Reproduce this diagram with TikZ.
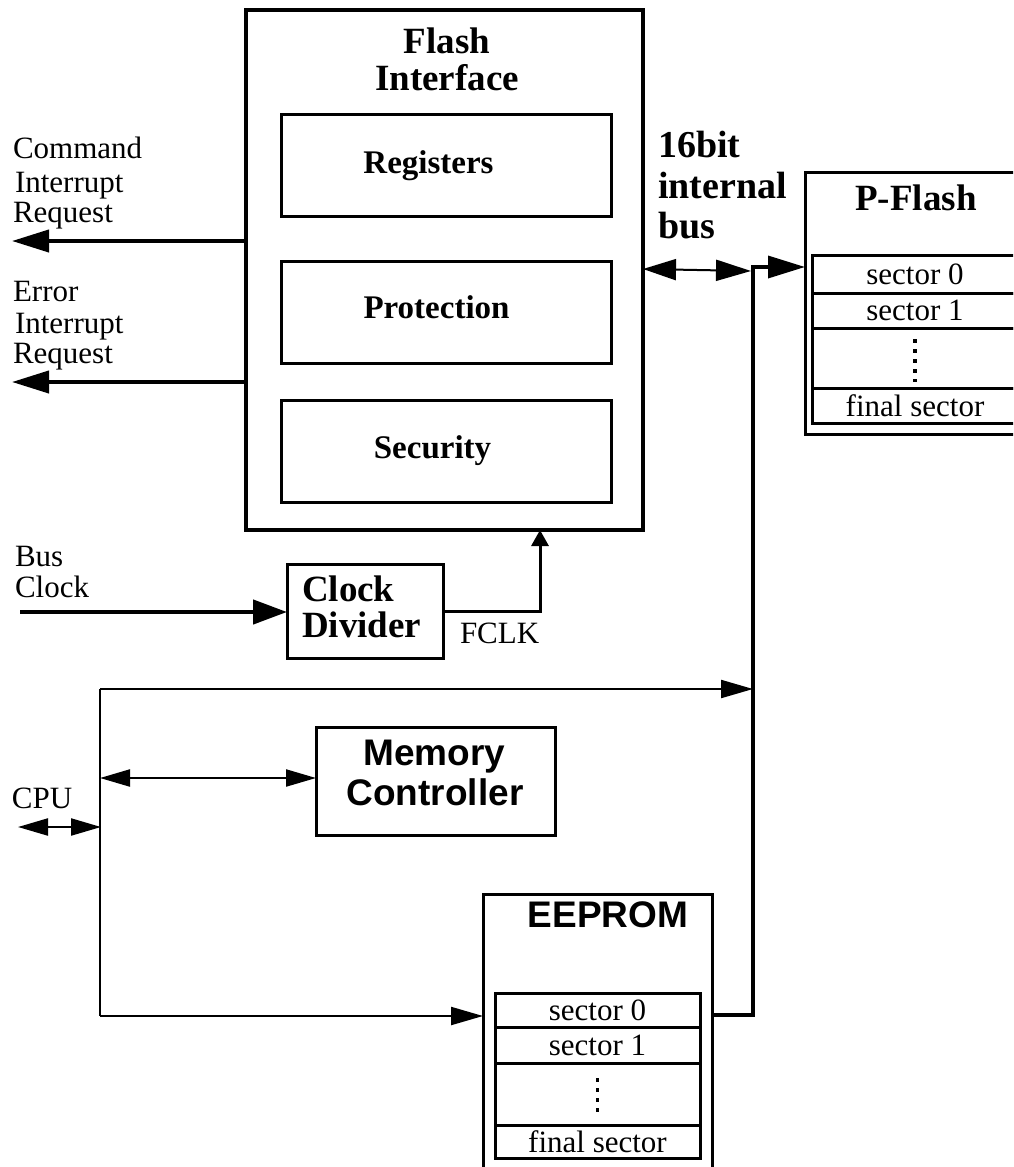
\documentclass[tikz,border=0pt]{standalone}
\usepackage{fontspec}
\setmainfont{Liberation Serif}
\setsansfont{Liberation Sans}
\usetikzlibrary{arrows.meta,calc}
\newcommand\txtN{\fontsize{31}{31}\selectfont}
\newcommand\txtB{\fontsize{37}{37}\selectfont\bfseries}
\newcommand\txtBb{\fontsize{38}{38}\selectfont\bfseries}
\newcommand\txtBs{\fontsize{33}{33}\selectfont\bfseries}
\newcommand\txtSB{\fontsize{37}{40}\selectfont\sffamily\bfseries}
\newcommand\txtCD{\fontsize{37}{36}\selectfont\bfseries}
\begin{document}
\begin{tikzpicture}[x=1pt,y=-1pt,
  lbl/.style={inner sep=0pt, outer sep=0pt},
  box/.style={draw, line width=3pt, inner sep=0pt, outer sep=0pt},
  row/.style={draw, line width=3pt, inner sep=0pt, outer sep=0pt, font=\txtN},
  bigarr/.style={line width=4pt, -{Triangle[length=37pt,width=22pt]}},
  clkarr/.style={line width=4.5pt, -{Triangle[length=34pt,width=24pt]}},
  fclkarr/.style={line width=3pt, -{Triangle[length=16pt,width=17pt]}},
  busdbl/.style={line width=2pt, {Triangle[length=33pt,width=21pt]}-{Triangle[length=35pt,width=21pt]}},
  busline/.style={line width=3.5pt},
  pfarr/.style={line width=3.5pt, -{Triangle[length=37pt,width=22pt]}},
  cpul/.style={line width=2.2pt},
  cpuarr/.style={line width=2.2pt, -{Triangle[length=32pt,width=18pt]}},
  cpudbl/.style={line width=2.2pt, {Triangle[length=30pt,width=17pt]}-{Triangle[length=30pt,width=17pt]}},
  dotl/.style={line width=3.5pt, dash pattern=on 3.5pt off 6.5pt}
]
\useasboundingbox (0,0) rectangle (1013,1167);
\fill[white] (0,0) rectangle (1013,1167);
\clip (0,0) rectangle (1013,1167);

% Flash interface
\node[box, line width=3.5pt, minimum width=397pt, minimum height=520pt] (flash) at (444.5,270) {};
\node[lbl, font=\txtB, anchor=base] (flt1) at (447,53) {Flash};
\node[lbl, font=\txtB, anchor=base] (flt2) at (447,90) {Interface};
\node[box, minimum width=330pt, minimum height=102pt] (reg) at (446,165) {};
\node[box, minimum width=330pt, minimum height=102pt] (prot) at (446,312) {};
\node[box, minimum width=330pt, minimum height=102pt] (secu) at (446,451) {};
\node[lbl, font=\txtBs, anchor=base] (regt) at (428.5,173) {Registers};
\node[lbl, font=\txtBs, anchor=base] (prott) at (436.5,318) {Protection};
\node[lbl, font=\txtBs, anchor=base] (secut) at (432.5,458) {Security};

% interrupt requests
\coordinate (cmdtip) at (12,241);
\coordinate (errtip) at (12,382);
\draw[bigarr] (flash.west |- cmdtip) -- (cmdtip);
\draw[bigarr] (flash.west |- errtip) -- (errtip);
\node[lbl, font=\txtN, anchor=base west] (c1) at (13,158) {Command};
\node[lbl, font=\txtN, anchor=base west] (c2) at (15,192) {Interrupt};
\node[lbl, font=\txtN, anchor=base west] (c3) at (13,222) {Request};
\node[lbl, font=\txtN, anchor=base west] (e1) at (13,301) {Error};
\node[lbl, font=\txtN, anchor=base west] (e2) at (15,333) {Interrupt};
\node[lbl, font=\txtN, anchor=base west] (e3) at (13,363) {Request};

% clock divider
\node[box, minimum width=156pt, minimum height=94pt] (clkdiv) at (365,611) {};
\node[lbl, font=\txtCD, anchor=base west] (cd1) at (302,601) {Clock};
\node[lbl, font=\txtCD, anchor=base west] (cd2) at (302,637) {Divider};
\coordinate (bcs) at (20,612);
\draw[clkarr] (bcs) -- (clkdiv.west |- bcs);
\node[lbl, font=\txtN, anchor=base west] (b1) at (15,566) {Bus};
\node[lbl, font=\txtN, anchor=base west] (b2) at (15,597) {Clock};
\coordinate (fclkx) at (540,0);
\draw[fclkarr] (clkdiv.east) -| (flash.south -| fclkx);
\node[lbl, font=\txtN, anchor=base west] (fclk) at (460,643) {FCLK};

% internal bus label
\node[lbl, font=\txtBb, anchor=base west] (ib1) at (658,157) {16bit};
\node[lbl, font=\txtBb, anchor=base west] (ib2) at (658,198) {internal};
\node[lbl, font=\txtBb, anchor=base west] (ib3) at (658,238) {bus};

% P-Flash
\node[box, minimum width=221pt, minimum height=262pt] (pflash) at (915.5,303) {};
\node[lbl, font=\txtB, anchor=base] (pft) at (916,210) {P-Flash};
\node[row, minimum width=206pt, minimum height=38pt] (ps0) at (915,274) {sector 0};
\node[row, minimum width=206pt, minimum height=35pt] (ps1) at (915,310.5) {sector 1};
\node[row, minimum width=206pt, minimum height=60pt] (pdots) at (915,358) {};
\node[row, minimum width=206pt, minimum height=35pt] (pfin) at (915,405.5) {final sector};
\draw[dotl] ($(pdots.center)+(0,-19)$) -- ($(pdots.center)+(0,24)$);

% EEPROM
\node[box, minimum width=229pt, minimum height=296pt] (eeprom) at (597.5,1042) {};
\node[lbl, font=\txtSB, anchor=base] (eet) at (608,927) {EEPROM};
\node[row, minimum width=205pt, minimum height=34pt] (es0) at (597.5,1010) {sector 0};
\node[row, minimum width=205pt, minimum height=36pt] (es1) at (597.5,1045) {sector 1};
\node[row, minimum width=205pt, minimum height=62pt] (edots) at (597.5,1094) {};
\node[row, minimum width=205pt, minimum height=33pt] (efin) at (597.5,1141.5) {final sector};
\draw[dotl] ($(edots.center)+(0,-16)$) -- ($(edots.center)+(0,19)$);

% Memory controller
\node[box, minimum width=239pt, minimum height=108pt] (memctl) at (435.5,781) {};
\node[lbl, font=\txtSB, anchor=base] (mc1) at (434.5,765) {Memory};
\node[lbl, font=\txtSB, anchor=base] (mc2) at (435,805) {Controller};

% internal bus
\coordinate (busT) at (753,267);
\coordinate (busB) at (753,1015);
\coordinate (busArr) at (751,271);
\draw[busdbl] (flash.east |- 0,269) -- (busArr);
\draw[busline] (eeprom.east |- busB) -- (busB) -- (busT) -- ++(3,0);
\draw[pfarr] (busT) -- (pflash.west |- busT);

% CPU bus
\coordinate (cpuT) at (100,689);
\coordinate (cpuB) at (100,1016);
\coordinate (cpuM) at (100,778);
\coordinate (cpuJ) at (101,827);
\coordinate (cpuIn) at (18,827);
\draw[cpuarr] (cpuT) -- (busT |- cpuT);
\draw[cpul] (cpuT) -- (cpuB);
\draw[cpuarr] (cpuB) -- (eeprom.west |- cpuB);
\draw[cpudbl] (cpuM) -- (memctl.west |- cpuM);
\draw[cpudbl] (cpuIn) -- (cpuJ);
\node[lbl, font=\txtN, anchor=base west] (cpu) at (12,808) {CPU};
\end{tikzpicture}
\end{document}
